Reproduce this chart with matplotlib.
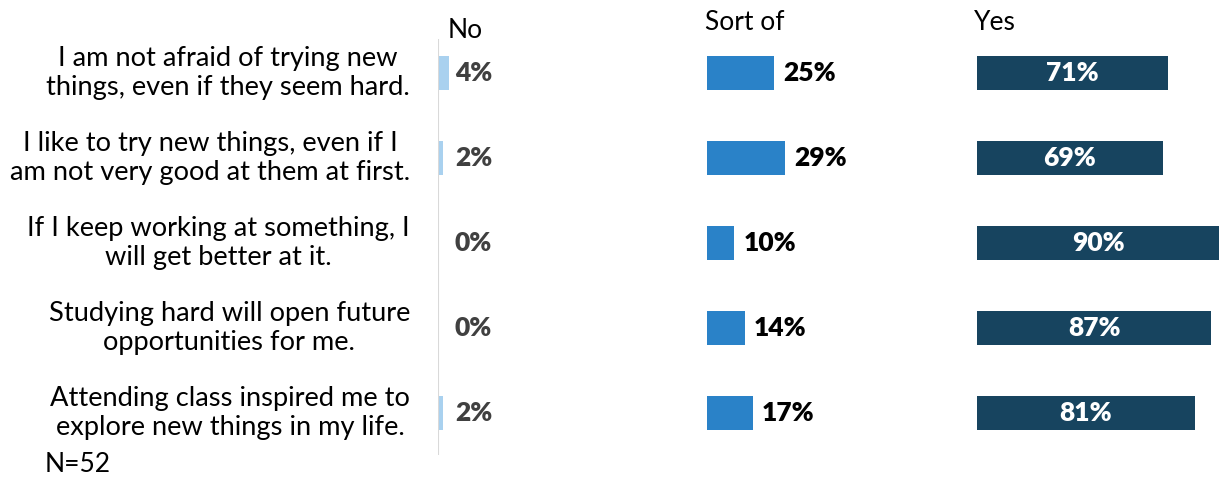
import matplotlib.pyplot as plt

statements = [
    "I am not afraid of trying new\nthings, even if they seem hard.",
    "I like to try new things, even if I\nam not very good at them at first.",
    "If I keep working at something, I\nwill get better at it.",
    "Studying hard will open future\nopportunities for me.",
    "Attending class inspired me to\nexplore new things in my life.",
]
answers = ["No", "Sort of", "Yes"]
no_pct = [4, 2, 0, 0, 2]
sortof_pct = [25, 29, 10, 14, 17]
yes_pct = [71, 69, 90, 87, 81]
sample_note = "N=52"

colors = ["#a9d1ef", "#2a82c8", "#17445f"]

W, H, DPI = 1222, 479, 100
plt.rcParams["font.family"] = ["Lato", "DejaVu Sans"]
fig = plt.figure(figsize=(W / DPI, H / DPI), dpi=DPI)

fs = 19
px_per_pct = 2.69
top, bottom = 39, 455
panel_left = [438, 707, 977]
panel_width = [252, 250, 245]

ypos = list(range(len(statements)))
row_h = 85
ylim = (len(statements) - 1 + (bottom - 413) / row_h, -(73 - top) / row_h)

axes = []
for left, width in zip(panel_left, panel_width):
    ax = fig.add_axes([left / W, 1 - bottom / H, width / W, (bottom - top) / H])
    ax.set_xlim(0, width / px_per_pct)
    ax.set_ylim(*ylim)
    ax.axis("off")
    axes.append(ax)

# panel 1: "No"
ax = axes[0]
ax.barh(ypos, no_pct, height=0.4, color=colors[0])
ax.axvline(0, color="#d9d9d9", lw=1.5)
for y, v in zip(ypos, no_pct):
    ax.text(6.3, y, f"{v}%", va="center", ha="left", fontsize=fs,
            fontweight="heavy", color="#404040")

# panel 2: "Sort of"
ax = axes[1]
ax.barh(ypos, sortof_pct, height=0.4, color=colors[1])
for y, v in zip(ypos, sortof_pct):
    ax.text(v + 3.5, y, f"{v}%", va="center", ha="left", fontsize=fs,
            fontweight="heavy", color="black")

# panel 3: "Yes"
ax = axes[2]
ax.barh(ypos, yes_pct, height=0.4, color=colors[2])
for y, v in zip(ypos, yes_pct):
    ax.text(v / 2, y, f"{v}%", va="center", ha="center", fontsize=fs,
            fontweight="heavy", color="white")

# column headers
fig.text(465 / W, 1 - 30 / H, answers[0], ha="center", va="center", fontsize=fs)
fig.text(745 / W, 1 - 22 / H, answers[1], ha="center", va="center", fontsize=fs)
fig.text(995 / W, 1 - 22 / H, answers[2], ha="center", va="center", fontsize=fs)

# statement labels
for y, s in zip(ypos, statements):
    axes[0].text(-28 / px_per_pct, y, s, ha="right", va="center",
                 multialignment="center", fontsize=19.6, linespacing=1.18)

fig.text(45 / W, 1 - 465 / H, sample_note, ha="left", va="center", fontsize=fs)

fig.savefig("out.png", dpi=DPI)
